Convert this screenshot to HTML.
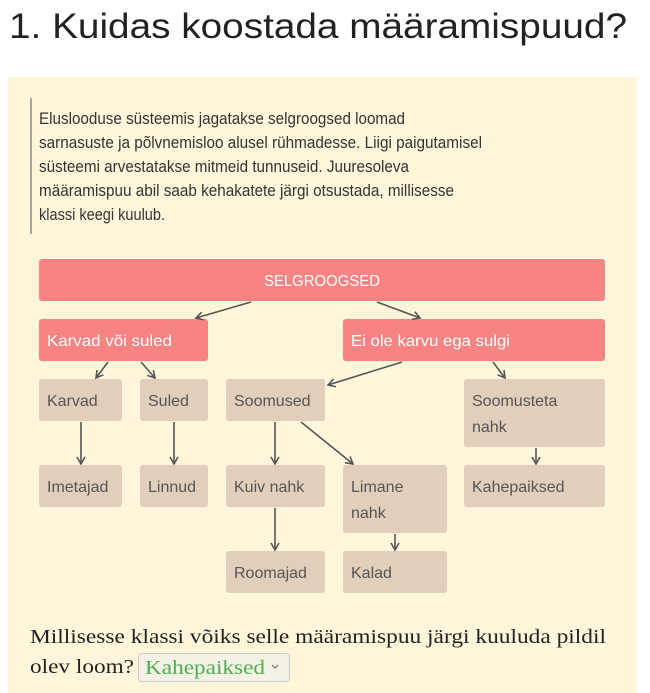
<!DOCTYPE html>
<html><head><meta charset="utf-8"><style>
html,body{margin:0;padding:0;background:#fff;}
svg{display:block}
</style></head><body>
<svg width="650" height="693" xmlns="http://www.w3.org/2000/svg" font-family="Liberation Sans, sans-serif">
<defs><marker id="a" markerWidth="10" markerHeight="10" refX="8" refY="5" orient="auto" markerUnits="userSpaceOnUse"><path d="M1,1 L8,5 L1,9" fill="none" stroke="#555" stroke-width="1.6"/></marker></defs>
<text x="9" y="38" font-size="35" fill="#222" textLength="618" lengthAdjust="spacingAndGlyphs">1. Kuidas koostada määramispuud?</text>
<rect x="8" y="77" width="629" height="616" fill="#fef6da"/>
<rect x="30" y="98" width="2" height="136" fill="#aaa39a"/>
<g font-size="17" fill="#333">
<text x="39" y="124" textLength="366" lengthAdjust="spacingAndGlyphs">Eluslooduse süsteemis jagatakse selgroogsed loomad</text>
<text x="39" y="148" textLength="443" lengthAdjust="spacingAndGlyphs">sarnasuste ja põlvnemisloo alusel rühmadesse. Liigi paigutamisel</text>
<text x="39" y="172" textLength="370" lengthAdjust="spacingAndGlyphs">süsteemi arvestatakse mitmeid tunnuseid. Juuresoleva</text>
<text x="39" y="196" textLength="415" lengthAdjust="spacingAndGlyphs">määramispuu abil saab kehakatete järgi otsustada, millisesse</text>
<text x="39" y="220" textLength="126" lengthAdjust="spacingAndGlyphs">klassi keegi kuulub.</text>
</g>
<g fill="#f88383">
<rect x="39" y="259" width="566" height="42" rx="3"/>
<rect x="39" y="319" width="169" height="42" rx="3"/>
<rect x="343" y="319" width="262" height="42" rx="3"/>
</g>
<g fill="#e2cfbb">
<rect x="39" y="379" width="83" height="42" rx="3"/>
<rect x="140" y="379" width="68" height="42" rx="3"/>
<rect x="226" y="379" width="99" height="42" rx="3"/>
<rect x="464" y="379" width="141" height="68" rx="3"/>
<rect x="39" y="465" width="83" height="42" rx="3"/>
<rect x="140" y="465" width="68" height="42" rx="3"/>
<rect x="226" y="465" width="99" height="42" rx="3"/>
<rect x="343" y="465" width="104" height="68" rx="3"/>
<rect x="464" y="465" width="141" height="42" rx="3"/>
<rect x="226" y="551" width="99" height="42" rx="3"/>
<rect x="343" y="551" width="104" height="42" rx="3"/>
</g>
<g font-size="16" fill="#fff">
<text x="322" y="286" text-anchor="middle" textLength="116" lengthAdjust="spacingAndGlyphs">SELGROOGSED</text>
<text x="47" y="346" textLength="125" lengthAdjust="spacingAndGlyphs">Karvad või suled</text>
<text x="351" y="346" textLength="159" lengthAdjust="spacingAndGlyphs">Ei ole karvu ega sulgi</text>
</g>
<g font-size="16" fill="#555">
<text x="47" y="406">Karvad</text>
<text x="148" y="406">Suled</text>
<text x="234" y="406">Soomused</text>
<text x="472" y="406">Soomusteta</text>
<text x="472" y="432">nahk</text>
<text x="47" y="492">Imetajad</text>
<text x="148" y="492">Linnud</text>
<text x="234" y="492">Kuiv nahk</text>
<text x="351" y="492">Limane</text>
<text x="351" y="518">nahk</text>
<text x="472" y="492">Kahepaiksed</text>
<text x="234" y="578">Roomajad</text>
<text x="351" y="578">Kalad</text>
</g>
<g stroke="#555" stroke-width="1.6" marker-end="url(#a)">
<line x1="251" y1="302" x2="196" y2="318"/>
<line x1="377" y1="302" x2="420" y2="318"/>
<line x1="108" y1="362" x2="96" y2="378"/>
<line x1="141" y1="362" x2="155" y2="378"/>
<line x1="402" y1="362" x2="328" y2="385"/>
<line x1="493" y1="362" x2="505" y2="378"/>
<line x1="81" y1="422" x2="81" y2="464"/>
<line x1="174" y1="422" x2="174" y2="464"/>
<line x1="275" y1="422" x2="275" y2="464"/>
<line x1="301" y1="422" x2="353" y2="464"/>
<line x1="536" y1="448" x2="536" y2="464"/>
<line x1="275" y1="508" x2="275" y2="550"/>
<line x1="395" y1="534" x2="395" y2="550"/>
</g>
<g font-family="Liberation Serif, serif" font-size="20" fill="#222">
<text x="30" y="643" textLength="576" lengthAdjust="spacingAndGlyphs">Millisesse klassi võiks selle määramispuu järgi kuuluda pildil</text>
<text x="30" y="673" textLength="104" lengthAdjust="spacingAndGlyphs">olev loom?</text>
</g>
<rect x="138.5" y="653.5" width="151" height="28" rx="3" fill="#f5f1e6" stroke="#ccc"/>
<text x="145" y="674" font-family="Liberation Serif, serif" font-size="20" fill="#4caf50" textLength="120" lengthAdjust="spacingAndGlyphs">Kahepaiksed</text>
<path d="M272,665 L275,668 L278,665" fill="none" stroke="#777" stroke-width="1.2"/>
</svg>
</body></html>
